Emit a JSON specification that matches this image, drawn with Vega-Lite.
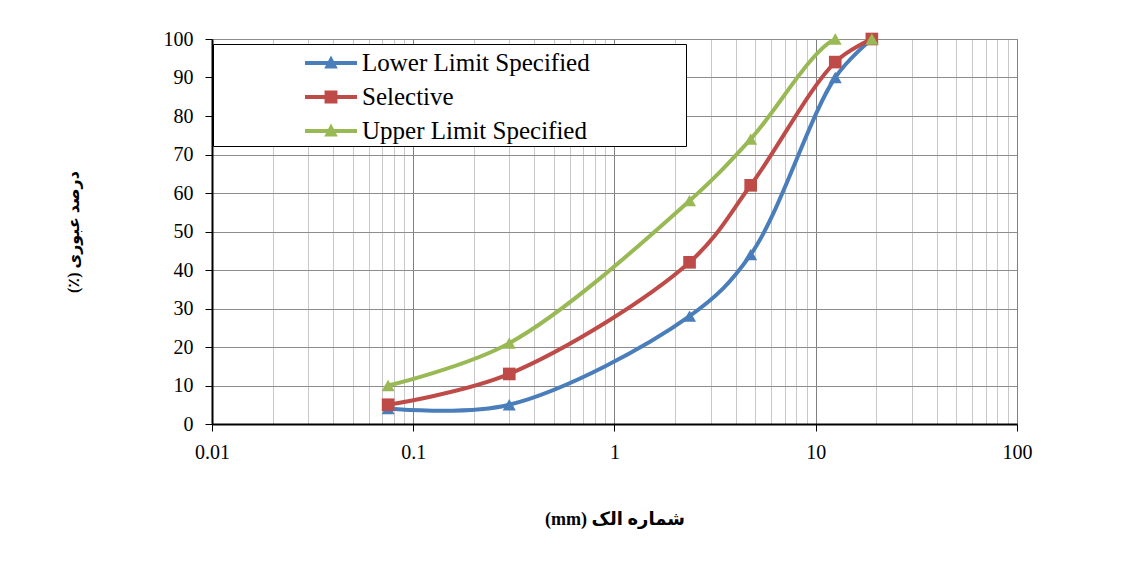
{
  "$schema": "https://vega.github.io/schema/vega-lite/v6.json",
  "autosize": {"type": "none"},
  "width": 805,
  "height": 385,
  "padding": {"left": 212, "top": 39, "right": 108, "bottom": 151},
  "background": "white",
  "config": {
    "view": {"stroke": "#808080", "strokeWidth": 1},
    "axis": {
      "labelFont": "Liberation Serif",
      "labelFontSize": 20,
      "labelColor": "black",
      "domainColor": "black",
      "domainWidth": 2,
      "tickSize": 7,
      "titleFont": "Liberation Serif, DejaVu Sans",
      "titleFontWeight": "bold",
      "titleColor": "black"
    }
  },
  "data": {
    "values": [
      {"size": 0.075, "pass": 4, "series": "Lower Limit Specified"},
      {"size": 0.3, "pass": 5, "series": "Lower Limit Specified"},
      {"size": 2.36, "pass": 28, "series": "Lower Limit Specified"},
      {"size": 4.75, "pass": 44, "series": "Lower Limit Specified"},
      {"size": 12.5, "pass": 90, "series": "Lower Limit Specified"},
      {"size": 19, "pass": 100, "series": "Lower Limit Specified"},
      {"size": 0.075, "pass": 5, "series": "Selective"},
      {"size": 0.3, "pass": 13, "series": "Selective"},
      {"size": 2.36, "pass": 42, "series": "Selective"},
      {"size": 4.75, "pass": 62, "series": "Selective"},
      {"size": 12.5, "pass": 94, "series": "Selective"},
      {"size": 19, "pass": 100, "series": "Selective"},
      {"size": 0.075, "pass": 10, "series": "Upper Limit Specified"},
      {"size": 0.3, "pass": 21, "series": "Upper Limit Specified"},
      {"size": 2.36, "pass": 58, "series": "Upper Limit Specified"},
      {"size": 4.75, "pass": 74, "series": "Upper Limit Specified"},
      {"size": 12.5, "pass": 100, "series": "Upper Limit Specified"},
      {"size": 19, "pass": 100, "series": "Upper Limit Specified"}
    ]
  },
  "encoding": {
    "x": {
      "field": "size",
      "type": "quantitative",
      "scale": {"type": "log", "domain": [0.01, 100], "nice": false},
      "axis": {
        "title": "\u202bشماره الک (mm)\u202c",
        "titleFontSize": 18,
        "titlePadding": 48,
        "values": [0.01,0.02,0.03,0.04,0.05,0.06,0.07,0.08,0.09,0.1,0.2,0.3,0.4,0.5,0.6,0.7,0.8,0.9,1,2,3,4,5,6,7,8,9,10,20,30,40,50,60,70,80,90,100],
        "labelExpr": "abs(log(datum.value)/LN10 - round(log(datum.value)/LN10)) < 1e-6 ? (datum.value < 1 ? format(datum.value, '~g') : format(datum.value, 'd')) : ''",
        "labelPadding": 11,
        "labelFlush": false,
        "labelOverlap": false,
        "grid": true,
        "gridColor": {"condition": {"test": "abs(log(datum.value)/LN10 - round(log(datum.value)/LN10)) < 1e-6", "value": "#808080"}, "value": "#c8c8c8"},
        "tickColor": {"condition": {"test": "abs(log(datum.value)/LN10 - round(log(datum.value)/LN10)) < 1e-6", "value": "black"}, "value": "transparent"}
      }
    },
    "y": {
      "field": "pass",
      "type": "quantitative",
      "scale": {"domain": [0, 100], "nice": false},
      "axis": {
        "title": "\u202bدرصد عبوری (٪)\u202c",
        "titleFontSize": 16,
        "titlePadding": 82,
        "values": [0,10,20,30,40,50,60,70,80,90,100],
        "labelPadding": 12,
        "tickColor": "black",
        "grid": true,
        "gridColor": "#8c8c8c"
      }
    },
    "color": {
      "field": "series",
      "type": "nominal",
      "scale": {
        "domain": ["Lower Limit Specified", "Selective", "Upper Limit Specified"],
        "range": ["#4a7ebb", "#be4b48", "#98b954"]
      },
      "legend": {
        "orient": "none",
        "legendX": 1,
        "legendY": 5,
        "title": "\u00a0",
        "titleOrient": "left",
        "titleFontSize": 1,
        "titlePadding": 99,
        "padding": 2,
        "rowPadding": 4,
        "fillColor": "white",
        "strokeColor": "black",
        "symbolSize": 1156,
        "symbolStrokeWidth": 0,
        "labelFont": "Liberation Serif",
        "labelFontSize": 25,
        "labelColor": "black",
        "labelLimit": 0,
        "labelOffset": 14,
        "labelExpr": "datum.label + '\u00a0\u00a0\u00a0\u00a0\u00a0\u00a0\u00a0\u00a0\u00a0\u00a0\u00a0\u00a0\u00a0\u00a0\u00a0\u200b'",
        "encode": {
          "symbols": {
            "update": {
              "shape": [
                {"test": "datum.value === 'Selective'", "value": "M-1.53,-0.12H1.53V0.12H-1.53Z M-0.38,-0.38H0.38V0.38H-0.38Z"},
                {"value": "M-1.53,-0.12H1.53V0.12H-1.53Z M0,-0.44L0.4,0.32L-0.4,0.32Z"}
              ],
              "fill": {"field": "value", "scale": "color"}
            }
          }
        }
      }
    }
  },
  "layer": [
    {
      "mark": {"type": "line", "interpolate": "catmull-rom", "strokeWidth": 4, "clip": true}
    },
    {
      "transform": [{"filter": "datum.series === 'Lower Limit Specified'"}],
      "mark": {"type": "point", "filled": true, "opacity": 1, "size": 170, "shape": "triangle-up"}
    },
    {
      "transform": [{"filter": "datum.series === 'Selective'"}],
      "mark": {"type": "point", "filled": true, "opacity": 1, "size": 160, "shape": "square"}
    },
    {
      "transform": [{"filter": "datum.series === 'Upper Limit Specified'"}],
      "mark": {"type": "point", "filled": true, "opacity": 1, "size": 170, "shape": "triangle-up"}
    }
  ]
}
